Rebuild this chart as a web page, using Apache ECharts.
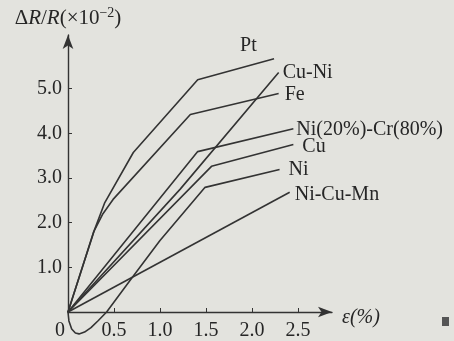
<!DOCTYPE html>
<html>
<head>
<meta charset="utf-8">
<script src="https://cdn.jsdelivr.net/npm/echarts@6/dist/echarts.min.js"></script>
<style>
  html, body { margin: 0; padding: 0; background: #e3e3de; }
  #chart { width: 454px; height: 341px; }
</style>
</head>
<body>
<div id="chart"></div>
<script>
// strain (%) vs relative resistance change (x10^-2)
const ptData = [[0, 0], [0.29, 1.85], [0.40, 2.45], [0.71, 3.57], [1.41, 5.2], [2.24, 5.67]];
const cuNiData = [[0, 0], [1.22, 2.75], [2.29, 5.36]];
const feData = [[0, 0], [0.28, 1.8], [0.38, 2.2], [0.49, 2.52], [1.33, 4.42], [2.29, 4.89]];
const niCrData = [[0, 0], [1.41, 3.59], [2.45, 4.1]];
const cuData = [[0, 0], [1.56, 3.26], [2.45, 3.75]];
const niData = [[0, 0], [0.01, -0.2], [0.04, -0.38], [0.08, -0.47], [0.12, -0.49], [0.18, -0.45], [0.25, -0.35], [0.33, -0.19], [0.42, 0], [0.7, 0.78], [1.0, 1.6], [1.49, 2.79], [2.3, 3.19]];
const niCuMnData = [[0, 0], [2.41, 2.68]];

const xTicks = [0.5, 1.0, 1.5, 2.0, 2.5];
const yTicks = [1.0, 2.0, 3.0, 4.0, 5.0];

const ink = '#333333';
const font = '"Liberation Serif", "DejaVu Serif", serif';

const chart = echarts.init(document.getElementById('chart'));

function curve(name, data, offset) {
  return {
    name: name,
    type: 'line',
    data: data,
    symbol: 'none',
    clip: false,
    lineStyle: { color: ink, width: 1.6 },
    endLabel: {
      show: true,
      formatter: '{a}',
      color: '#262626',
      fontFamily: font,
      fontSize: 20,
      distance: 0,
      offset: offset
    }
  };
}

chart.setOption({
  backgroundColor: '#e3e3de',
  animation: false,
  grid: { left: 68, right: 122, top: 35, bottom: 28 },
  xAxis: {
    type: 'value',
    min: 0,
    max: 2.87,
    name: 'ε(%)',
    nameLocation: 'end',
    nameGap: 10,
    nameTextStyle: { color: '#262626', fontFamily: font, fontSize: 20, fontStyle: 'italic',
      verticalAlign: 'top', lineHeight: 12 },
    axisLine: { lineStyle: { color: ink, width: 1.4 }, symbol: ['none', 'arrow'], symbolSize: [8, 14] },
    axisTick: { show: true, inside: true, length: 4, lineStyle: { color: ink }, customValues: xTicks },
    axisLabel: { color: '#262626', fontFamily: font, fontSize: 20, margin: 9, customValues: xTicks,
      formatter: v => v.toFixed(1) },
    splitLine: { show: false }
  },
  yAxis: {
    type: 'value',
    min: 0,
    max: 6.2,
    name: '{n|Δ}{i|R}{n|/}{i|R}{n|(×10}{s|−2}{n|)}',
    nameLocation: 'end',
    nameGap: 5,
    nameTextStyle: {
      align: 'center',
      rich: {
        n: { fontFamily: font, fontSize: 21, color: '#262626' },
        i: { fontFamily: font, fontSize: 21, fontStyle: 'italic', color: '#262626' },
        s: { fontFamily: font, fontSize: 14, color: '#262626', verticalAlign: 'top', padding: [0, 0, 10, 0] }
      }
    },
    axisLine: { show: true, lineStyle: { color: ink, width: 1.4 }, symbol: ['none', 'arrow'], symbolSize: [8, 14] },
    axisTick: { show: true, inside: true, length: 4, lineStyle: { color: ink }, customValues: yTicks },
    axisLabel: { color: '#262626', fontFamily: font, fontSize: 20, margin: 6, customValues: yTicks,
      formatter: v => v.toFixed(1) },
    splitLine: { show: false }
  },
  graphic: [
    { type: 'text', left: 55, top: 321, style: { text: '0', fontFamily: font, fontSize: 20, fill: '#262626' } },
    { type: 'rect', shape: { x: 442, y: 317, width: 7, height: 9 }, style: { fill: '#555555' } }
  ],
  series: [
    curve('Pt', ptData, [-34, -13]),
    curve('Cu-Ni', cuNiData, [4, 0]),
    curve('Fe', feData, [6, 1]),
    curve('Ni(20%)-Cr(80%)', niCrData, [3, 1]),
    curve('Cu', cuData, [9, 2]),
    curve('Ni', niData, [9, 0]),
    curve('Ni-Cu-Mn', niCuMnData, [5, 2])
  ]
});
</script>
</body>
</html>
